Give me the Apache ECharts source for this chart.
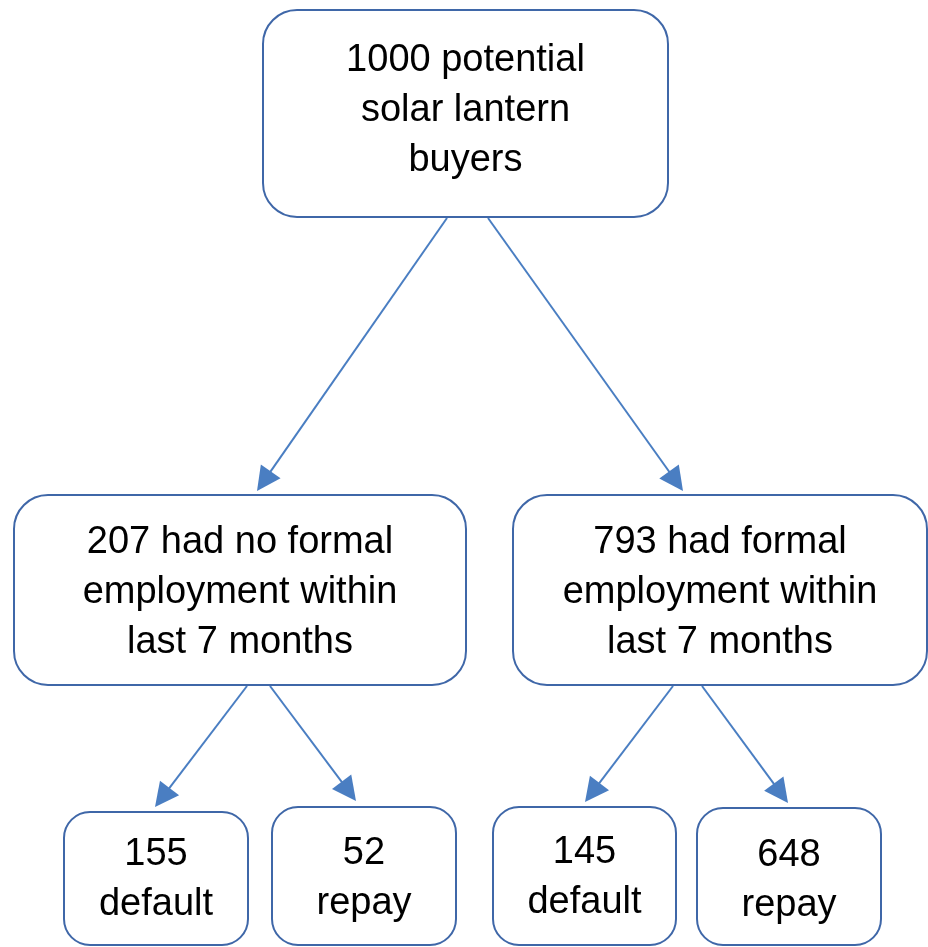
<!DOCTYPE html>
<html>
<head>
<meta charset="utf-8">
<script src="https://cdn.jsdelivr.net/npm/echarts@6/dist/echarts.min.js"></script>
<style>
    html, body { margin: 0; padding: 0; background: #fff; }
    #chart { width: 928px; height: 947px; }
</style>
</head>
<body>
<div id="chart"></div>
<script>
    // tree data
    var rootCount = 1000;
    var rootText = 'potential\nsolar lantern\nbuyers';
    var groupCounts = [207, 793];
    var groupTexts = ['had no formal\nemployment within\nlast 7 months', 'had formal\nemployment within\nlast 7 months'];
    var outcomeNames = ['default', 'repay'];
    var outcomeCounts = [[155, 52], [145, 648]];

    // layout of the boxes in page pixels: [x0, y0, x1, y1, radius, textY]
    var rootBox = [263, 10, 668, 217, 34, 111];
    var groupBoxes = [
        [14, 495, 466, 685, 34, 593],
        [513, 495, 927, 685, 34, 593]
    ];
    var outcomeBoxes = [
        [[64, 812, 248, 945, 26, 880], [272, 807, 456, 945, 26, 879]],
        [[493, 807, 676, 945, 26, 878], [697, 808, 881, 945, 26, 881]]
    ];
    // arrows: [startX, startY, tipX, tipY]
    var rootArrows = [[447, 218, 257, 491], [488, 218, 683, 491]];
    var groupArrows = [
        [[247, 686, 155, 807], [270, 686, 356, 801]],
        [[673, 686, 585, 802], [702, 686, 788, 803]]
    ];

    var fontFamily = '"Liberation Sans", Arial, Helvetica, sans-serif';
    var boxColor = '#3f67a8';
    var arrowColor = '#4a7ec2';
    var headLen = 24;

    var nodes = [];
    var links = [];

    function addBox(box, text) {
        nodes.push({ name: text, value: box });
    }
    function addArrow(a) {
        // pull the end back so the triangle tip lands on the given point
        var dx = a[2] - a[0], dy = a[3] - a[1];
        var len = Math.sqrt(dx * dx + dy * dy);
        var k = (len - headLen / 2) / len;
        links.push({ coords: [[a[0], a[1]], [a[0] + dx * k, a[1] + dy * k]] });
    }

    addBox(rootBox, rootCount + ' ' + rootText);
    groupCounts.forEach(function (c, i) {
        addBox(groupBoxes[i], c + ' ' + groupTexts[i]);
        addArrow(rootArrows[i]);
        outcomeCounts[i].forEach(function (n, j) {
            addBox(outcomeBoxes[i][j], n + '\n' + outcomeNames[j]);
            addArrow(groupArrows[i][j]);
        });
    });

    var chart = echarts.init(document.getElementById('chart'));
    var option = {
        backgroundColor: '#ffffff',
        animation: false,
        grid: { left: 0, right: 0, top: 0, bottom: 0 },
        xAxis: { type: 'value', min: 0, max: 928, show: false },
        yAxis: { type: 'value', min: 0, max: 947, inverse: true, show: false },
        series: [{
            type: 'lines',
            coordinateSystem: 'cartesian2d',
            z: 1,
            symbol: ['none', 'triangle'],
            symbolSize: [22, headLen],
            lineStyle: { color: arrowColor, width: 2, opacity: 1 },
            data: links
        }, {
            type: 'custom',
            coordinateSystem: 'cartesian2d',
            z: 2,
            clip: false,
            renderItem: function (params, api) {
                var p0 = api.coord([api.value(0), api.value(1)]);
                var p1 = api.coord([api.value(2), api.value(3)]);
                var ty = api.coord([0, api.value(5)])[1];
                var text = nodes[params.dataIndex].name;
                return {
                    type: 'group',
                    children: [{
                        type: 'rect',
                        shape: { x: p0[0], y: p0[1], width: p1[0] - p0[0], height: p1[1] - p0[1], r: api.value(4) },
                        style: { fill: 'rgba(255,255,255,0)', stroke: boxColor, lineWidth: 2 }
                    }, {
                        type: 'text',
                        style: {
                            text: text,
                            x: (p0[0] + p1[0]) / 2,
                            y: ty,
                            align: 'center',
                            verticalAlign: 'middle',
                            fontFamily: fontFamily,
                            fontSize: 38,
                            lineHeight: 50,
                            fill: '#000000'
                        }
                    }]
                };
            },
            data: nodes
        }]
    };
    chart.setOption(option);
</script>
</body>
</html>
